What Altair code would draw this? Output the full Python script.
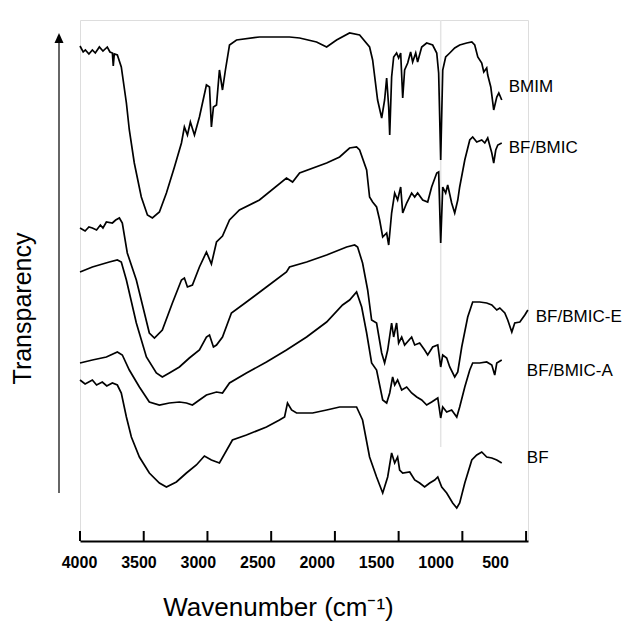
import altair as alt
import pandas as pd

# ---- data (wavenumber cm-1, transparency a.u.) ----
bmim_wn = [4000, 3975, 3958, 3930, 3903, 3880, 3848, 3820, 3786, 3765, 3746, 3739, 3731, 3707, 3676,
           3636, 3613, 3574, 3519, 3471, 3432, 3377, 3322, 3259, 3204, 3181, 3157, 3134, 3102, 3063,
           3008, 2984, 2969, 2953, 2929, 2906, 2882, 2859, 2827, 2772, 2592, 2356, 2277, 2144, 2065,
           1987, 1885, 1806, 1728, 1704, 1665, 1633, 1610, 1594, 1578, 1570, 1555, 1539, 1516, 1500,
           1484, 1468, 1453, 1429, 1406, 1390, 1366, 1351, 1319, 1280, 1233, 1201, 1186, 1170, 1154,
           1131, 1099, 1060, 1021, 966, 926, 903, 879, 848, 832, 809, 801, 777, 754, 730, 714, 691]
bmim_t = [495, 489, 491, 487, 491, 488, 494, 490, 494, 489, 488, 475, 487, 486, 474,
          438, 411, 378, 344, 326, 323, 329, 348, 374, 398, 414, 406, 419, 406, 424,
          456, 454, 414, 434, 436, 471, 451, 471, 496, 501, 504, 504, 503, 499, 494,
          501, 508, 506, 494, 481, 441, 423, 441, 463, 434, 406, 464, 484, 488, 483,
          488, 443, 471, 478, 489, 479, 488, 479, 494, 498, 496, 488, 468, 381, 471,
          484, 488, 493, 496, 498, 499, 496, 484, 478, 469, 473, 466, 454, 431, 444, 448, 441]

bmic_wn = [4000, 3960, 3930, 3903, 3870, 3840, 3820, 3793, 3746, 3720, 3691, 3668, 3629, 3558, 3456,
           3416, 3354, 3275, 3204, 3181, 3157, 3118, 3063, 3008, 2969, 2929, 2882, 2827, 2749, 2592,
           2380, 2332, 2277, 2065, 1963, 1885, 1830, 1806, 1751, 1728, 1704, 1673, 1649, 1625, 1594,
           1578, 1555, 1531, 1508, 1484, 1468, 1437, 1398, 1374, 1351, 1311, 1272, 1241, 1201, 1186,
           1170, 1154, 1131, 1115, 1084, 1060, 1036, 1021, 981, 942, 919, 887, 848, 824, 801,
           769, 754, 738, 722, 691]
bmic_t = [313, 310, 314, 313, 311, 316, 313, 319, 318, 321, 323, 318, 288, 261, 208,
          203, 211, 238, 261, 263, 254, 256, 274, 289, 277, 299, 305, 321, 331, 341,
          363, 359, 368, 378, 384, 393, 394, 391, 371, 344, 339, 334, 321, 304, 308,
          296, 328, 348, 341, 354, 328, 338, 348, 344, 348, 341, 339, 354, 368, 369,
          298, 354, 348, 356, 338, 328, 341, 354, 381, 401, 404, 399, 401, 398, 403,
          388, 378, 391, 396, 398]

bmic_e_wn = [4000, 3903, 3770, 3707, 3676, 3636, 3558, 3479, 3401, 3354, 3299, 3220, 3142, 3063, 3008,
             2984, 2953, 2929, 2882, 2812, 2694, 2537, 2380, 2356, 2222, 2065, 1908, 1845, 1822, 1783,
             1743, 1712, 1673, 1633, 1610, 1586, 1555, 1539, 1516, 1500, 1476, 1453, 1398, 1374, 1335,
             1296, 1272, 1233, 1193, 1170, 1154, 1123, 1099, 1060, 1036, 1005, 958, 919, 864, 809,
             769, 730, 706, 667, 644, 612, 589, 549, 510, 486]
bmic_e_t = [269, 274, 279, 281, 279, 261, 218, 184, 168, 164, 168, 174, 183, 191, 204,
            206, 194, 196, 204, 228, 239, 254, 269, 274, 279, 286, 294, 296, 294, 278,
            251, 221, 218, 188, 178, 191, 218, 204, 218, 198, 204, 196, 204, 196, 198,
            191, 186, 194, 196, 174, 186, 183, 174, 164, 169, 194, 224, 239, 239, 238,
            236, 231, 233, 228, 221, 209, 218, 219, 226, 231]

bmic_a_wn = [4000, 3903, 3793, 3707, 3668, 3613, 3534, 3456, 3377, 3299, 3220, 3165, 3118, 3063, 3008,
             2929, 2882, 2827, 2694, 2537, 2380, 2222, 2065, 1940, 1885, 1830, 1790, 1751, 1712, 1673,
             1625, 1594, 1570, 1547, 1531, 1508, 1476, 1437, 1398, 1358, 1319, 1280, 1241, 1193, 1170,
             1154, 1123, 1084, 1044, 1021, 981, 942, 919, 864, 809, 769, 746, 730, 691]
bmic_a_t = [178, 181, 184, 189, 186, 171, 154, 139, 136, 138, 139, 138, 136, 141, 146,
            149, 148, 158, 168, 179, 191, 204, 219, 236, 241, 249, 234, 208, 178, 171,
            141, 138, 148, 164, 156, 161, 151, 154, 148, 144, 141, 136, 139, 143, 123,
            134, 129, 131, 124, 134, 154, 171, 178, 178, 179, 176, 166, 178, 181]

bf_wn = [4000, 3960, 3903, 3870, 3825, 3790, 3746, 3707, 3676, 3636, 3597, 3534, 3456, 3377, 3322,
         3244, 3165, 3087, 3024, 2969, 2906, 2804, 2694, 2537, 2435, 2395, 2372, 2340, 2301, 2175,
         2065, 1963, 1830, 1783, 1728, 1673, 1625, 1586, 1555, 1531, 1508, 1492, 1468, 1413, 1374,
         1335, 1296, 1256, 1217, 1193, 1162, 1123, 1076, 1044, 1021, 981, 926, 887, 848, 809,
         769, 730, 691]
bf_t = [161, 157, 161, 156, 159, 155, 158, 156, 148, 124, 104, 84, 68, 58, 54,
        59, 68, 76, 85, 81, 78, 101, 106, 114, 121, 124, 138, 131, 128, 128,
        131, 134, 134, 121, 84, 64, 48, 64, 88, 78, 84, 71, 68, 69, 61,
        58, 54, 58, 61, 64, 54, 48, 38, 33, 38, 58, 81, 86, 89, 84,
        83, 81, 78]

series_names = ["BMIM", "BF/BMIC", "BF/BMIC-E", "BF/BMIC-A", "BF"]

label_text = ["BMIM", "BF/BMIC", "BF/BMIC-E", "BF/BMIC-A", "BF"]
label_wn = [636, 636, 424, 494, 494]
label_t = [454, 393, 224, 170, 83]

tick_values = [4000, 3500, 3000, 2500, 2000, 1500, 1000, 500]
marker_wn = [1170]

# ---- tables ----
rows = []
for name, wn, t in zip(series_names,
                       [bmim_wn, bmic_wn, bmic_e_wn, bmic_a_wn, bf_wn],
                       [bmim_t, bmic_t, bmic_e_t, bmic_a_t, bf_t]):
    for i, (a, b) in enumerate(zip(wn, t)):
        rows.append({"series": name, "wn": a, "t": b, "i": i})
spectra = pd.DataFrame(rows)
labels = pd.DataFrame({"label": label_text, "wn": label_wn, "t": label_t})
ticks = pd.DataFrame({"wn": tick_values, "t0": [0] * len(tick_values), "t1": [10] * len(tick_values)})
marker = pd.DataFrame({"wn": marker_wn, "t0": [94], "t1": [521]})

W, H = 448, 521
FONT = "Liberation Sans"

xscale = alt.Scale(domain=[4000, 485], zero=False, nice=False)
yscale = alt.Scale(domain=[0, 521], zero=False, nice=False)

x_axis = alt.Axis(
    values=tick_values, format="d", ticks=False, tickSize=0, grid=False,
    domain=True, domainColor="black", domainWidth=2,
    labelFont=FONT, labelFontSize=16, labelFontWeight="bold", labelColor="black",
    labelBaseline="middle", labelPadding=21, labelFlush=False, labelOverlap=False,
    labelOffset={"expr": "-1 - 4.3 * (4000 - datum.value) / 500"},
    title="Wavenumber (cm\u207b\u00b9)", titleFont=FONT, titleFontSize=26,
    titleFontWeight="normal", titleColor="black",
    titleX=198, titleY=74, titleAlign="center", titleBaseline="alphabetic",
)
y_axis = alt.Axis(
    domain=False, ticks=False, labels=False, grid=False,
    title="Transparency", titleFont=FONT, titleFontSize=25, titleFontWeight="normal",
    titleColor="black", titleX=-58, titleY=288, titleAngle=-90,
    titleAlign="center", titleBaseline="middle",
)

guide = alt.Chart(marker).mark_rule(color="#e4e4e4", strokeWidth=1.5).encode(
    x=alt.X("wn:Q", scale=xscale, axis=x_axis),
    y=alt.Y("t0:Q", scale=yscale, axis=y_axis),
    y2="t1:Q",
)

lines = alt.Chart(spectra).mark_line(color="black", strokeWidth=1.7).encode(
    x=alt.X("wn:Q", scale=xscale),
    y=alt.Y("t:Q", scale=yscale),
    detail="series:N",
    order="i:Q",
)

tick_marks = alt.Chart(ticks).mark_rule(color="black", strokeWidth=2).encode(
    x=alt.X("wn:Q", scale=xscale),
    y=alt.Y("t0:Q", scale=yscale),
    y2="t1:Q",
)

arrow_line = alt.Chart(ticks).transform_filter("datum.wn == 4000").mark_rule(
    color="#333333", strokeWidth=1.5
).encode(x=alt.value(-21), y=alt.value(20), y2=alt.value(473))

arrow_head = alt.Chart(ticks).transform_filter("datum.wn == 4000").mark_point(
    shape="M0,-1L0.9,1L-0.9,1Z", filled=True, color="black", size=100, opacity=1
).encode(x=alt.value(-21), y=alt.value(18))

texts = alt.Chart(labels).mark_text(
    align="left", baseline="middle", font=FONT, fontSize=17, color="black"
).encode(
    x=alt.X("wn:Q", scale=xscale),
    y=alt.Y("t:Q", scale=yscale),
    text="label:N",
)

chart = alt.layer(guide, lines, tick_marks, arrow_line, arrow_head, texts).properties(
    width=W, height=H,
    autosize=alt.AutoSizeParams(type="none"),
    padding={"left": 80, "top": 20, "right": 104, "bottom": 80},
).configure_view(stroke=None).configure(background="white")

chart.save("out.html", embed_options={"renderer": "svg", "actions": False})
